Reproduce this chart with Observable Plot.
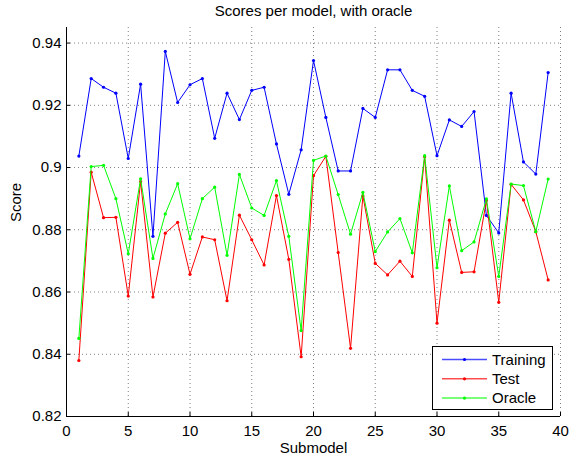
<!DOCTYPE html>
<html>
<head>
<meta charset="utf-8">
<script src="https://cdn.jsdelivr.net/npm/d3@7"></script>
<script src="https://cdn.jsdelivr.net/npm/@observablehq/plot@0.6"></script>
<style>
  html, body { margin: 0; padding: 0; background: #fff; }
  #wrap { position: relative; width: 571px; height: 463px; font-family: "Liberation Sans", Arial, Helvetica, sans-serif; }
  #legend { position: absolute; left: 432px; top: 346px; width: 121px; height: 64px; border: 1px solid #000; background: #fff; box-sizing: border-box; }
</style>
</head>
<body>
<div id="wrap"></div>
<script>
const submodels = [1,2,3,4,5,6,7,8,9,10,11,12,13,14,15,16,17,18,19,20,21,22,23,24,25,26,27,28,29,30,31,32,33,34,35,36,37,38,39];
const training = [0.9037,0.9286,0.9258,0.9239,0.9029,0.9268,0.8779,0.9373,0.9209,0.9266,0.9286,0.9094,0.9239,0.9154,0.9248,0.9258,0.9076,0.8914,0.9057,0.9344,0.9161,0.8989,0.8989,0.9190,0.9161,0.9314,0.9314,0.9248,0.9229,0.9038,0.9153,0.9132,0.9180,0.8846,0.8790,0.9239,0.9018,0.8979,0.9305];
const test = [0.8380,0.8985,0.8839,0.8840,0.8587,0.8955,0.8584,0.8789,0.8824,0.8657,0.8777,0.8768,0.8572,0.8847,0.8768,0.8687,0.8910,0.8705,0.8392,0.8974,0.9036,0.8727,0.8419,0.8909,0.8692,0.8655,0.8699,0.8650,0.9035,0.8500,0.8831,0.8663,0.8665,0.8894,0.8567,0.8946,0.8896,0.8794,0.8639];
const oracle = [0.8451,0.9003,0.9007,0.8900,0.8723,0.8964,0.8708,0.8851,0.8948,0.8771,0.8900,0.8937,0.8718,0.8978,0.8870,0.8846,0.8958,0.8779,0.8476,0.9023,0.9037,0.8913,0.8786,0.8920,0.8730,0.8793,0.8836,0.8726,0.9038,0.8678,0.8941,0.8733,0.8761,0.8899,0.8650,0.8947,0.8942,0.8794,0.8963];
const seriesNames = ["Training", "Test", "Oracle"];
const seriesColors = ["#0000ff", "#ff0000", "#00ff00"];
const xTicks = [0,5,10,15,20,25,30,35,40];
const yTicks = [0.82,0.84,0.86,0.88,0.90,0.92,0.94];
const titleText = "Scores per model, with oracle";
const xLabel = "Submodel";
const yLabel = "Score";

const seriesValues = [training, test, oracle];
const rows = [];
seriesNames.forEach((name, s) => {
  submodels.forEach((m, i) => rows.push({series: name, submodel: m, score: seriesValues[s][i]}));
});

const grid = {stroke: "#000", strokeOpacity: 0.5, strokeDasharray: "1,3", strokeWidth: 1};
const marks = [
  Plot.gridX(xTicks.slice(1), grid),
  Plot.gridY(yTicks.slice(1), grid),
  Plot.axisX(xTicks, {tickSize: 0, tickPadding: 9, label: null, tickFormat: d => String(d), fontSize: 15}),
  Plot.axisY(yTicks, {tickSize: 0, tickPadding: 5, label: null, tickFormat: d => String(+d.toFixed(2)), fontSize: 15}),
  Plot.tickX(xTicks, {x: d => d, stroke: "#000", insetTop: 385}),
  Plot.tickY(yTicks, {y: d => d, stroke: "#000", insetRight: 490}),
  Plot.ruleX([xTicks[0]], {stroke: "#000"}),
  Plot.ruleY([yTicks[0]], {stroke: "#000"})
];
seriesNames.forEach((name, s) => {
  const data = rows.filter(r => r.series === name);
  marks.push(Plot.line(data, {x: "submodel", y: "score", stroke: seriesColors[s], strokeWidth: 1}));
  marks.push(Plot.dot(data, {x: "submodel", y: "score", fill: seriesColors[s], r: 1.6, stroke: "none"}));
});
marks.push(Plot.text([titleText], {frameAnchor: "top", dy: -16, fontSize: 15, lineAnchor: "middle", fill: "#000"}));
marks.push(Plot.text([xLabel], {frameAnchor: "bottom", dy: 32, fontSize: 15, lineAnchor: "middle", fill: "#000"}));
marks.push(Plot.text([yLabel], {frameAnchor: "left", dx: -50, rotate: -90, fontSize: 15, lineAnchor: "middle", fill: "#000"}));

const chart = Plot.plot({
  width: 571, height: 463,
  marginLeft: 66, marginRight: 11, marginTop: 27, marginBottom: 47,
  x: {domain: [0, 40]},
  y: {domain: [0.82, 0.945]},
  style: {fontFamily: "'Liberation Sans', Arial, Helvetica, sans-serif", fontSize: "15px", background: "#fff", color: "#000"},
  marks
});
const wrap = document.getElementById("wrap");
wrap.appendChild(chart);

// Legend
const legend = d3.select(wrap).append("div").attr("id", "legend");
const lsvg = legend.append("svg").attr("width", 121).attr("height", 64)
  .style("font-family", "'Liberation Sans', Arial, Helvetica, sans-serif").style("font-size", "15px");
seriesNames.forEach((name, s) => {
  const y = 12.5 + s * 19.3;
  lsvg.append("line").attr("x1", 9).attr("x2", 54).attr("y1", y).attr("y2", y)
    .attr("stroke", seriesColors[s]).attr("stroke-width", 1.5).attr("stroke-opacity", 0.7);
  lsvg.append("circle").attr("cx", 31.5).attr("cy", y).attr("r", 1.6).attr("fill", seriesColors[s]);
  lsvg.append("text").attr("x", 59).attr("y", y).attr("dy", "0.35em").text(name);
});
</script>
</body>
</html>
